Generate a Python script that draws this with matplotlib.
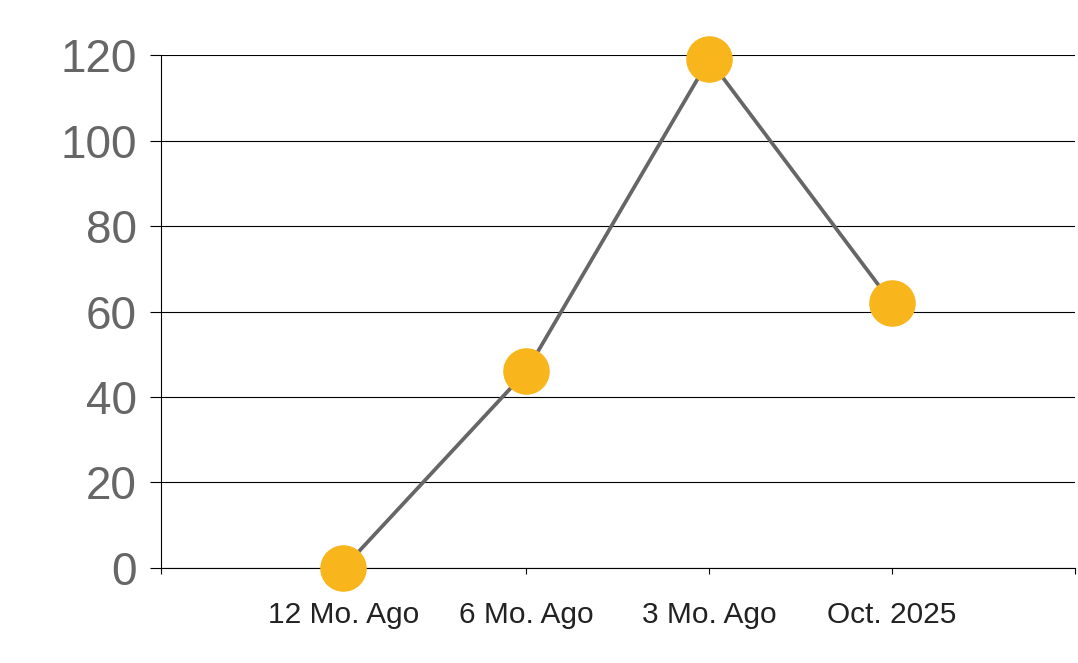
import matplotlib.pyplot as plt

# Gegevens
categorieen = ['12 Mo. Ago', '6 Mo. Ago', '3 Mo. Ago', 'Oct. 2025']
waarden = [0, 46, 119, 62]
y_ticks = [0, 20, 40, 60, 80, 100, 120]

plt.rcParams['font.family'] = ['Liberation Sans', 'DejaVu Sans']

fig = plt.figure(figsize=(10.78, 6.63), dpi=100)
ax = fig.add_axes([0.149, 0.1433, 0.848, 0.7737])

x = list(range(1, len(categorieen) + 1))
ax.plot(x, waarden, color='#666666', linewidth=2.7, zorder=3, clip_on=False)
ax.plot(x, waarden, linestyle='none', marker='o', markersize=32.5,
        markerfacecolor='#F9B51C', markeredgecolor='#F9B51C', zorder=4, clip_on=False)

ax.set_xlim(0, len(categorieen) + 1)
ax.set_ylim(0, 120)
ax.set_yticks(y_ticks)
ax.set_xticks(range(0, len(categorieen) + 2))
ax.set_xticklabels([''] + categorieen + [''])

ax.grid(axis='y', color='black', linewidth=0.8, zorder=1)
ax.set_axisbelow(True)
for s in ['top', 'right']:
    ax.spines[s].set_visible(False)
for s in ['left', 'bottom']:
    ax.spines[s].set_color('black')
    ax.spines[s].set_linewidth(0.8)

ax.tick_params(axis='y', length=8, width=0.8, pad=9, labelsize=33, labelcolor='#666666')
ax.tick_params(axis='x', length=4.5, width=0.8, pad=19, labelsize=21.5, labelcolor='#222222')

plt.savefig('out.png', dpi=100)
